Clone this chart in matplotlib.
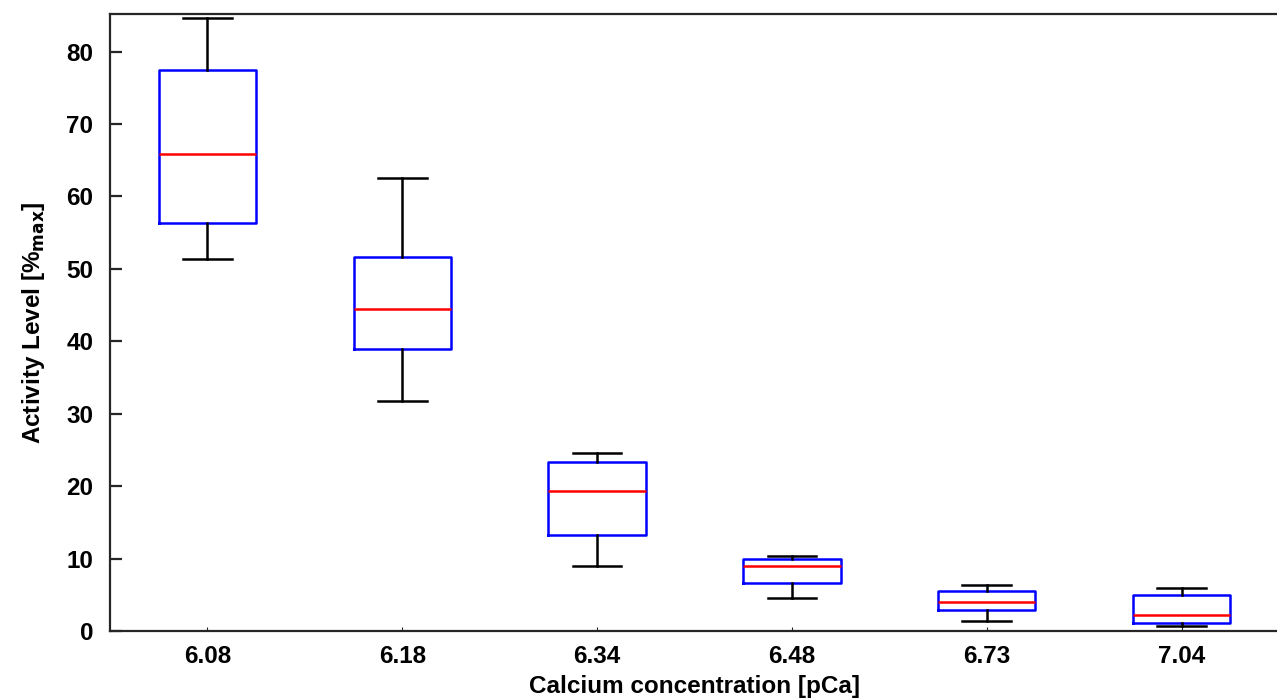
import matplotlib
matplotlib.use("Agg")
import matplotlib.pyplot as plt

categories = ["6.08", "6.18", "6.34", "6.48", "6.73", "7.04"]
whislo = [51.3, 31.8, 9.0, 4.5, 1.4, 0.7]
q1 = [56.4, 39.0, 13.3, 6.6, 2.9, 1.1]
med = [65.9, 44.5, 19.3, 9.0, 4.0, 2.2]
q3 = [77.4, 51.7, 23.4, 9.9, 5.5, 4.9]
whishi = [84.6, 62.6, 24.6, 10.4, 6.3, 5.9]

plt.rcParams['font.family'] = ['Liberation Sans', 'DejaVu Sans']
plt.rcParams['font.weight'] = 'bold'

fig = plt.figure(figsize=(12.77, 7.0), dpi=100)
ax = fig.add_axes([0.0861, 0.0986, 0.9155, 0.8814])

stats = []
for i, c in enumerate(categories):
    stats.append(dict(label=c, whislo=whislo[i], q1=q1[i], med=med[i],
                      q3=q3[i], whishi=whishi[i], fliers=[]))

ax.bxp(stats, positions=range(1, len(categories) + 1), widths=0.5,
       showfliers=False,
       boxprops=dict(color='#0000ff', linewidth=1.8),
       medianprops=dict(color='#ff0000', linewidth=1.8),
       whiskerprops=dict(color='black', linewidth=1.8),
       capprops=dict(color='black', linewidth=1.8))

ax.set_xlim(0.5, 6.5)
ax.set_ylim(0, 85.2)
ax.set_yticks([0, 10, 20, 30, 40, 50, 60, 70, 80])
ax.set_xticks(range(1, len(categories) + 1))
ax.set_xticklabels(categories)

for s in ax.spines.values():
    s.set_color('#262626')
    s.set_linewidth(1.6)

ax.tick_params(axis='y', direction='in', length=8.5, width=1.6, color='#262626',
               labelsize=17.5, pad=12)
ax.tick_params(axis='x', direction='in', length=3, width=0.8, color='#262626',
               labelsize=17.5, pad=10)
for lab in ax.get_xticklabels() + ax.get_yticklabels():
    lab.set_fontweight('bold')

ax.set_xlabel("Calcium concentration [pCa]", fontsize=17.5, fontweight='bold', labelpad=5)
ax.set_ylabel(r"Activity Level [%$_{\mathbf{max}}$]", fontsize=17.5, fontweight='bold', labelpad=14)

fig.savefig("out.png", dpi=100)
